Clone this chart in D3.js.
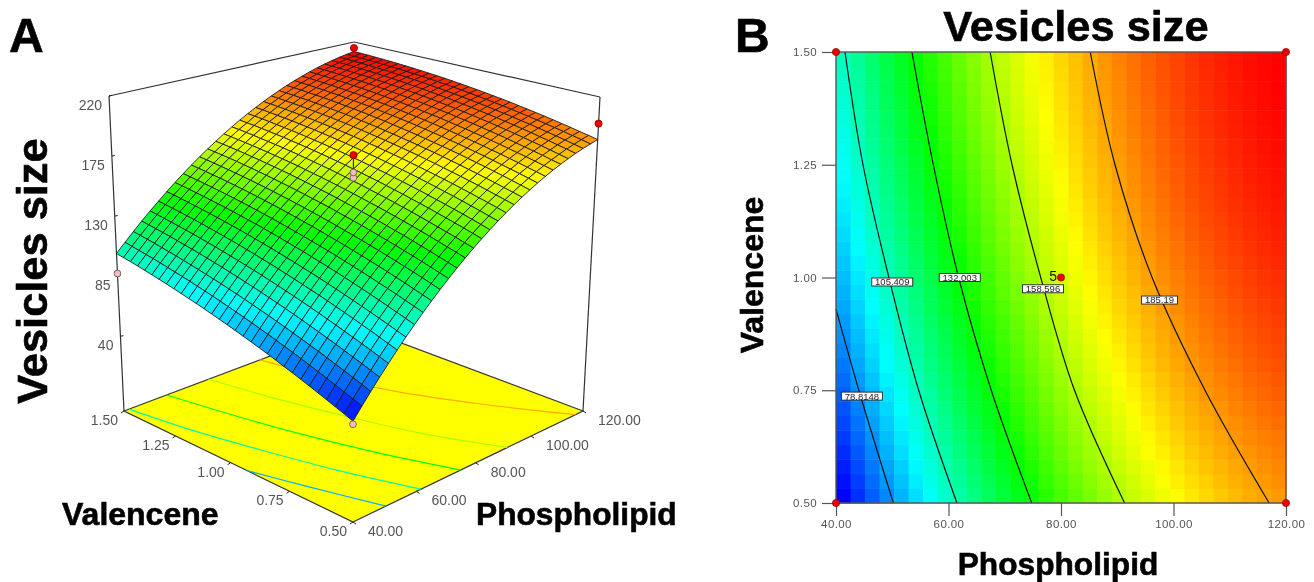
<!DOCTYPE html>
<html>
<head>
<meta charset="utf-8">
<script src="https://cdn.jsdelivr.net/npm/d3@7"></script>
<style>
body { margin: 0; background: #fff; }
svg { display: block; filter: blur(0.35px); }
text { font-family: "Liberation Sans", Arial, sans-serif; }
.bold { font-weight: bold; fill: #000; stroke: #000; stroke-width: 0.6px; }
.tick-label { fill: #555; font-size: 14px; }
</style>
</head>
<body>
<div id="chart"></div>
<script>
"use strict";
const phospholipidTicks = [40, 60, 80, 100, 120];
const valenceneTicks = [0.5, 0.75, 1, 1.25, 1.5];
const sizeTicks = [40, 85, 130, 175, 220];

// Vesicles size. Rows go valencene 0.5 -> 1.5, columns phospholipid 40 -> 120
const surfaceValues = [
[51.0,58.6,65.9,73.1,80.0,86.8,93.3,99.6,105.7,111.6,117.3,122.8,128.1,133.2,138.1,142.8,147.2,151.5,155.5,159.4,163.0,166.4,169.7,172.7,175.5,178.1,180.5,182.7,184.7,186.4,188.0],
[53.4,60.9,68.2,75.3,82.2,88.9,95.4,101.7,107.8,113.6,119.3,124.8,130.0,135.1,139.9,144.6,149.0,153.2,157.3,161.1,164.7,168.1,171.3,174.3,177.1,179.6,182.0,184.2,186.1,187.9,189.5],
[55.6,63.1,70.4,77.5,84.4,91.0,97.5,103.7,109.8,115.6,121.3,126.7,131.9,136.9,141.8,146.4,150.8,155.0,159.0,162.7,166.3,169.7,172.9,175.8,178.6,181.2,183.5,185.6,187.6,189.3,190.8],
[57.9,65.3,72.6,79.6,86.5,93.1,99.5,105.7,111.8,117.6,123.2,128.6,133.7,138.7,143.5,148.1,152.5,156.6,160.6,164.4,167.9,171.3,174.4,177.4,180.1,182.6,185.0,187.1,189.0,190.7,192.2],
[60.1,67.5,74.7,81.7,88.5,95.1,101.5,107.7,113.7,119.4,125.0,130.4,135.5,140.5,145.2,149.8,154.1,158.3,162.2,166.0,169.5,172.8,175.9,178.8,181.5,184.0,186.3,188.4,190.3,192.0,193.5],
[62.3,69.6,76.8,83.8,90.5,97.1,103.4,109.6,115.5,121.3,126.8,132.1,137.3,142.2,146.9,151.4,155.8,159.9,163.8,167.5,171.0,174.3,177.4,180.3,182.9,185.4,187.7,189.8,191.6,193.3,194.8],
[64.4,71.7,78.9,85.8,92.5,99.0,105.3,111.5,117.4,123.1,128.6,133.9,139.0,143.9,148.6,153.1,157.3,161.4,165.3,169.0,172.4,175.7,178.8,181.6,184.3,186.8,189.0,191.1,192.9,194.6,196.0],
[66.5,73.8,80.8,87.8,94.4,100.9,107.2,113.3,119.2,124.8,130.3,135.6,140.6,145.5,150.2,154.6,158.9,162.9,166.8,170.4,173.9,177.1,180.2,183.0,185.6,188.1,190.3,192.3,194.1,195.8,197.2],
[68.5,75.8,82.8,89.7,96.3,102.8,109.0,115.1,120.9,126.5,131.9,137.2,142.2,147.1,151.7,156.1,160.4,164.4,168.2,171.8,175.2,178.5,181.5,184.3,186.9,189.3,191.5,193.5,195.3,196.9,198.3],
[70.5,77.7,84.7,91.6,98.2,104.6,110.8,116.8,122.6,128.2,133.6,138.8,143.8,148.6,153.2,157.6,161.8,165.8,169.6,173.2,176.6,179.8,182.8,185.5,188.1,190.5,192.7,194.7,196.4,198.0,199.4],
[72.5,79.6,86.6,93.4,100.0,106.3,112.5,118.5,124.3,129.8,135.2,140.4,145.3,150.1,154.7,159.0,163.2,167.2,170.9,174.5,177.9,181.0,184.0,186.7,189.3,191.7,193.8,195.8,197.5,199.1,200.5],
[74.4,81.5,88.4,95.2,101.7,108.0,114.2,120.1,125.9,131.4,136.7,141.9,146.8,151.5,156.1,160.4,164.5,168.5,172.2,175.8,179.1,182.2,185.2,187.9,190.4,192.8,194.9,196.8,198.6,200.1,201.5],
[76.2,83.3,90.2,96.9,103.4,109.7,115.8,121.7,127.4,132.9,138.2,143.3,148.2,152.9,157.4,161.8,165.9,169.8,173.5,177.0,180.3,183.4,186.3,189.0,191.5,193.8,196.0,197.9,199.6,201.1,202.4],
[78.0,85.1,91.9,98.6,105.1,111.3,117.4,123.3,128.9,134.4,139.7,144.8,149.6,154.3,158.8,163.0,167.1,171.0,174.7,178.2,181.4,184.5,187.4,190.1,192.6,194.9,197.0,198.8,200.5,202.0,203.3],
[79.8,86.8,93.6,100.3,106.7,112.9,118.9,124.8,130.4,135.9,141.1,146.2,151.0,155.6,160.0,164.3,168.3,172.2,175.8,179.3,182.5,185.6,188.5,191.1,193.6,195.8,197.9,199.8,201.4,202.9,204.2],
[81.5,88.5,95.3,101.9,108.3,114.5,120.4,126.2,131.8,137.2,142.4,147.5,152.3,156.9,161.3,165.5,169.5,173.3,177.0,180.4,183.6,186.6,189.5,192.1,194.5,196.8,198.8,200.7,202.3,203.8,205.0],
[83.2,90.1,96.9,103.4,109.8,115.9,121.9,127.7,133.2,138.6,143.8,148.7,153.5,158.1,162.5,166.7,170.6,174.4,178.0,181.4,184.6,187.6,190.4,193.0,195.5,197.7,199.7,201.5,203.1,204.6,205.8],
[84.8,91.7,98.4,105.0,111.3,117.4,123.3,129.0,134.6,139.9,145.0,150.0,154.7,159.3,163.7,167.8,171.7,175.5,179.1,182.4,185.6,188.6,191.4,193.9,196.3,198.5,200.5,202.3,203.9,205.3,206.5],
[86.4,93.3,100.0,106.4,112.7,118.8,124.7,130.4,135.9,141.2,146.3,151.2,155.9,160.4,164.7,168.9,172.8,176.5,180.1,183.4,186.5,189.5,192.2,194.8,197.2,199.3,201.3,203.1,204.6,206.0,207.2],
[88.0,94.8,101.4,107.9,114.1,120.2,126.0,131.7,137.1,142.4,147.4,152.3,157.0,161.5,165.8,169.9,173.8,177.5,181.0,184.3,187.4,190.4,193.1,195.6,197.9,200.1,202.0,203.8,205.3,206.7,207.9],
[89.4,96.2,102.8,109.2,115.4,121.5,127.3,132.9,138.3,143.6,148.6,153.4,158.1,162.6,166.8,170.9,174.7,178.4,181.9,185.2,188.3,191.2,193.9,196.4,198.7,200.8,202.7,204.4,206.0,207.3,208.4],
[90.9,97.7,104.2,110.6,116.8,122.7,128.5,134.1,139.5,144.7,149.7,154.5,159.1,163.6,167.8,171.8,175.6,179.3,182.7,186.0,189.1,191.9,194.6,197.1,199.4,201.5,203.4,205.1,206.6,207.9,209.0],
[92.3,99.0,105.5,111.9,118.0,124.0,129.7,135.3,140.6,145.8,150.7,155.5,160.1,164.5,168.7,172.7,176.5,180.2,183.5,186.8,189.8,192.6,195.3,197.8,200.0,202.1,203.9,205.6,207.1,208.4,209.5],
[93.7,100.3,106.8,113.1,119.2,125.1,130.8,136.4,141.7,146.8,151.7,156.5,161.0,165.4,169.6,173.5,177.3,180.9,184.3,187.5,190.5,193.3,196.0,198.4,200.6,202.7,204.5,206.2,207.6,208.9,210.0],
[95.0,101.6,108.1,114.3,120.4,126.3,132.0,137.4,142.7,147.8,152.7,157.4,161.9,166.3,170.4,174.4,178.1,181.7,185.0,188.2,191.2,194.0,196.6,199.0,201.2,203.2,205.0,206.7,208.1,209.3,210.4],
[96.3,102.9,109.3,115.5,121.5,127.4,133.0,138.4,143.7,148.8,153.6,158.3,162.8,167.1,171.2,175.1,178.8,182.4,185.7,188.8,191.8,194.6,197.1,199.5,201.7,203.7,205.5,207.1,208.5,209.7,210.8],
[97.5,104.1,110.4,116.6,122.6,128.4,134.0,139.4,144.6,149.7,154.5,159.2,163.6,167.9,171.9,175.8,179.5,183.0,186.3,189.4,192.4,195.1,197.7,200.0,202.2,204.1,205.9,207.5,208.9,210.1,211.1],
[98.7,105.2,111.6,117.7,123.6,129.4,135.0,140.3,145.5,150.5,155.3,160.0,164.4,168.6,172.7,176.5,180.2,183.6,186.9,190.0,192.9,195.6,198.1,200.5,202.6,204.5,206.3,207.9,209.2,210.4,211.4],
[99.9,106.3,112.6,118.7,124.6,130.4,135.9,141.2,146.4,151.4,156.1,160.7,165.1,169.3,173.3,177.2,180.8,184.2,187.5,190.5,193.4,196.1,198.6,200.9,203.0,204.9,206.6,208.2,209.5,210.7,211.7],
[100.9,107.4,113.6,119.7,125.6,131.3,136.9,142.1,147.2,152.1,156.9,161.4,165.8,170.0,174.0,177.7,181.4,184.8,188.0,191.0,193.8,196.5,199.0,201.2,203.3,205.2,206.9,208.4,209.8,210.9,211.9],
[102.0,108.4,114.6,120.7,126.5,132.1,137.6,142.9,148.0,152.9,157.6,162.1,166.4,170.6,174.5,178.3,181.8,185.2,188.4,191.4,194.2,196.9,199.3,201.5,203.6,205.5,207.2,208.7,210.0,211.1,212.0]
];

// contour lines: phospholipid read where each one crosses the valencene values
const contourLevels = [78.8148, 105.409, 132.003, 158.596, 185.19];
const contourValencene = [[0.5, 0.74, 0.93], valenceneTicks, valenceneTicks, valenceneTicks, valenceneTicks];
const contourPhospholipid = [
    [50.2, 44.3, 40],
    [61.5, 54.7, 49.4, 44.8, 41.6],
    [74.8, 67.6, 61.8, 57.3, 53.5],
    [91.3, 82.4, 76.4, 71.3, 67.4],
    [117, 105.6, 96.2, 89.6, 85.2]
];
const contourLabelP = [44.6, 50, 62, 76.8, 97.5];
const contourLabelV = [0.737, 0.99, 1.0, 0.975, 0.95];

// design points, panel A
const designP = [120, 120, 80, 80, 80, 40, 40];
const designV = [1.5, 0.5, 1, 1, 1, 1.5, 0.5];
const designSize = [215, 200, 176, 163, 159, 87, 49];
const designAbove = [true, true, true, false, false, false, false];
// design points, panel B
const pointsP = [40, 40, 120, 120, 80];
const pointsV = [0.5, 1.5, 0.5, 1.5, 1];

const width = 1314, height = 582;
const svg = d3.select("#chart").append("svg").attr("width", width).attr("height", height);

const colour = d3.scaleLinear()
    .domain([51, 92, 132, 172, 212])
    .range(["#0000ff", "#00ffff", "#00ff00", "#ffff00", "#ff0000"]);

// ---------- Panel A ----------
const pScale = d3.scaleLinear().domain([40, 120]).range([0, 1]);
const vScale = d3.scaleLinear().domain([0.5, 1.5]).range([0, 1]);
const zScale = d3.scaleLinear().domain([-16, 220]).range([0, 1]);

// the corners of the box on screen, in order front, right, back, left
const floorCorners = [[353, 522], [583, 411], [353, 325], [124, 411]];
const topCorners = [[353, 167], [600, 97], [354, 42], [109, 96]];

// maps the unit square to a quad, so the box gets its perspective
function quadMap(q) {
    const [x0, y0] = q[0], [x1, y1] = q[1], [x2, y2] = q[2], [x3, y3] = q[3];
    const dx1 = x1 - x2, dx2 = x3 - x2, sx = x0 - x1 + x2 - x3;
    const dy1 = y1 - y2, dy2 = y3 - y2, sy = y0 - y1 + y2 - y3;
    const den = dx1 * dy2 - dx2 * dy1;
    const g = (sx * dy2 - dx2 * sy) / den;
    const h = (dx1 * sy - sx * dy1) / den;
    const a = x1 - x0 + g * x1, b = x3 - x0 + h * x3;
    const d = y1 - y0 + g * y1, e = y3 - y0 + h * y3;
    return function(s, t) {
        const w = g * s + h * t + 1;
        return [(a * s + b * t + x0) / w, (d * s + e * t + y0) / w];
    };
}
const floorMap = quadMap(floorCorners);
const topMap = quadMap(topCorners);

function project(p, v, z) {
    const s = pScale(p), t = vScale(v), k = zScale(z);
    const f = floorMap(s, t), c = topMap(s, t);
    return [f[0] + (c[0] - f[0]) * k, f[1] + (c[1] - f[1]) * k];
}

const gridP = d3.scaleLinear().domain([0, 30]).range([40, 120]);
const gridV = d3.scaleLinear().domain([0, 30]).range([0.5, 1.5]);

// floor
const pA = svg.append("g");
pA.append("polygon")
    .attr("points", floorCorners.map(d => d.join(",")).join(" "))
    .attr("fill", "#ffff00")
    .attr("stroke", "#333")
    .attr("stroke-width", 1.2);

const floorLine = d3.line().curve(d3.curveCatmullRom);
contourLevels.forEach(function(level, i) {
    const pts = d3.zip(contourPhospholipid[i], contourValencene[i]).map(d => project(d[0], d[1], -16));
    pA.append("path")
        .attr("d", floorLine(pts))
        .attr("fill", "none")
        .attr("stroke", colour(level))
        .attr("stroke-width", 1.2);
});

// box
function boxLine(a, b) {
    pA.append("line")
        .attr("x1", a[0]).attr("y1", a[1])
        .attr("x2", b[0]).attr("y2", b[1])
        .attr("stroke", "#333")
        .attr("stroke-width", 1.2);
}
boxLine(floorCorners[3], topCorners[3]);
boxLine(floorCorners[1], topCorners[1]);
boxLine(topCorners[3], topCorners[2]);
boxLine(topCorners[2], topCorners[1]);

// mesh, painted from the back corner to the front
for (let j = 29; j >= 0; j--) {
    for (let i = 29; i >= 0; i--) {
        const cell = [[i, j], [i + 1, j], [i + 1, j + 1], [i, j + 1]];
        const mean = d3.mean(cell, d => surfaceValues[d[1]][d[0]]);
        pA.append("polygon")
            .attr("points", cell.map(d => project(gridP(d[0]), gridV(d[1]), surfaceValues[d[1]][d[0]]).join(",")).join(" "))
            .attr("fill", colour(mean))
            .attr("stroke", "#1c1c1c")
            .attr("stroke-width", 0.9)
            .attr("stroke-linejoin", "round");
    }
}

// size axis on the left edge
sizeTicks.forEach(function(d) {
    const pos = project(40, 1.5, d);
    pA.append("line")
        .attr("x1", pos[0]).attr("y1", pos[1])
        .attr("x2", pos[0] + 3).attr("y2", pos[1] - 0.6)
        .attr("stroke", "#222");
    pA.append("text")
        .attr("class", "tick-label")
        .attr("x", pos[0] - 7)
        .attr("y", pos[1] + 14)
        .attr("text-anchor", "end")
        .text(d);
});

// floor ticks
phospholipidTicks.forEach(function(d) {
    const pos = project(d, 0.5, -16);
    pA.append("line")
        .attr("x1", pos[0]).attr("y1", pos[1])
        .attr("x2", pos[0] + 3).attr("y2", pos[1] + 2)
        .attr("stroke", "#222");
    pA.append("text")
        .attr("class", "tick-label")
        .attr("x", pos[0] + 15)
        .attr("y", pos[1] + 14)
        .text(d3.format(".2f")(d));
});
valenceneTicks.forEach(function(d) {
    const pos = project(40, d, -16);
    pA.append("line")
        .attr("x1", pos[0]).attr("y1", pos[1])
        .attr("x2", pos[0] - 3).attr("y2", pos[1] + 2)
        .attr("stroke", "#222");
    pA.append("text")
        .attr("class", "tick-label")
        .attr("x", pos[0] - 6)
        .attr("y", pos[1] + 14)
        .attr("text-anchor", "end")
        .text(d3.format(".2f")(d));
});

// design points
pA.append("line")
    .attr("x1", project(80, 1, designSize[2])[0]).attr("y1", project(80, 1, designSize[2])[1])
    .attr("x2", project(80, 1, designSize[3])[0]).attr("y2", project(80, 1, designSize[3])[1])
    .attr("stroke", "#333")
    .attr("stroke-width", 1.2);
d3.range(designP.length).reverse().forEach(function(i) {
    const pos = project(designP[i], designV[i], designSize[i]);
    pA.append("circle")
        .attr("cx", pos[0]).attr("cy", pos[1])
        .attr("r", designAbove[i] ? 3.6 : 3.4)
        .attr("fill", designAbove[i] ? "#ee0000" : "#f4bcbc")
        .attr("stroke", designAbove[i] ? "#800" : "#555")
        .attr("stroke-width", 0.8);
});

// ---------- Panel B ----------
const plotLeft = 836, plotRight = 1286, plotTop = 52, plotBottom = 503;
const xB = d3.scaleLinear().domain([40, 120]).range([plotLeft, plotRight]);
const yB = d3.scaleLinear().domain([0.5, 1.5]).range([plotBottom, plotTop]);
const xBand = d3.scaleBand().domain(d3.range(31)).range([plotLeft, plotRight]);
const yBand = d3.scaleBand().domain(d3.range(31)).range([plotBottom, plotTop]);

const pB = svg.append("g");
surfaceValues.forEach(function(row, j) {
    pB.append("g").selectAll("rect")
        .data(row)
        .enter()
        .append("rect")
        .attr("x", (d, i) => xBand(i))
        .attr("y", yBand(j))
        .attr("width", xBand.bandwidth() + 0.5)
        .attr("height", yBand.bandwidth() + 0.5)
        .attr("fill", d => colour(d));
});

const contourLine = d3.line().x(d => xB(d[0])).y(d => yB(d[1])).curve(d3.curveCatmullRom);
contourLevels.forEach(function(level, i) {
    pB.append("path")
        .attr("d", contourLine(d3.zip(contourPhospholipid[i], contourValencene[i])))
        .attr("fill", "none")
        .attr("stroke", "#111")
        .attr("stroke-width", 1.2);
});

// frame and axes
pB.append("rect")
    .attr("x", plotLeft).attr("y", plotTop)
    .attr("width", plotRight - plotLeft).attr("height", plotBottom - plotTop)
    .attr("fill", "none")
    .attr("stroke", "#555")
    .attr("stroke-width", 1.4);

const xAxis = d3.axisBottom(xB).tickValues(phospholipidTicks).tickFormat(d3.format(".2f")).tickSize(13).tickPadding(4);
const yAxis = d3.axisLeft(yB).tickValues(valenceneTicks).tickFormat(d3.format(".2f")).tickSize(14).tickPadding(5);
const xG = pB.append("g").attr("transform", "translate(0," + plotBottom + ")").call(xAxis);
const yG = pB.append("g").attr("transform", "translate(" + plotLeft + ",0)").call(yAxis);
[xG, yG].forEach(function(g) {
    g.select(".domain").remove();
    g.selectAll("line").attr("stroke", "#555").attr("stroke-width", 1.2);
    g.selectAll("text").attr("fill", "#555").style("font-size", "11.5px").style("letter-spacing", "0.4px");
});

// contour labels
contourLevels.forEach(function(level, i) {
    const cx = xB(contourLabelP[i]), cy = yB(contourLabelV[i]);
    const w = i === 4 ? 36 : 41;
    pB.append("rect")
        .attr("x", cx - w / 2).attr("y", cy - 4)
        .attr("width", w).attr("height", 8)
        .attr("fill", "#fff")
        .attr("stroke", "#222")
        .attr("stroke-width", 0.9);
    pB.append("text")
        .attr("x", cx).attr("y", cy + 3.4)
        .attr("text-anchor", "middle")
        .attr("fill", "#222")
        .style("font-size", "9.5px")
        .text(level);
});

// design points
pointsP.forEach(function(d, i) {
    pB.append("circle")
        .attr("cx", xB(d)).attr("cy", yB(pointsV[i]))
        .attr("r", 3.6)
        .attr("fill", "#ee0000")
        .attr("stroke", "#800")
        .attr("stroke-width", 0.7);
});
pB.append("text")
    .attr("x", xB(80) - 4).attr("y", yB(1) + 3)
    .attr("text-anchor", "end")
    .attr("fill", "#111")
    .style("font-size", "14px")
    .text("5");

// ---------- Titles ----------
function addText(str, x, y, size, anchor, rotate) {
    const t = svg.append("text")
        .attr("class", "bold")
        .attr("text-anchor", anchor)
        .style("font-size", size + "px")
        .text(str);
    if (rotate) {
        t.attr("transform", "translate(" + x + "," + y + ") rotate(-90)");
    } else {
        t.attr("x", x).attr("y", y);
    }
}
addText("A", 9, 52, 48, "start");
addText("B", 735, 52, 48, "start");
addText("Vesicles size", 1076, 41, 43.4, "middle");
addText("Vesicles size", 47, 271, 43.4, "middle", true);
addText("Valencene", 62, 525, 32, "start");
addText("Phospholipid", 476, 525, 31.7, "start");
addText("Phospholipid", 1058, 575, 31.7, "middle");
addText("Valencene", 763, 275, 32, "middle", true);
</script>
</body>
</html>
